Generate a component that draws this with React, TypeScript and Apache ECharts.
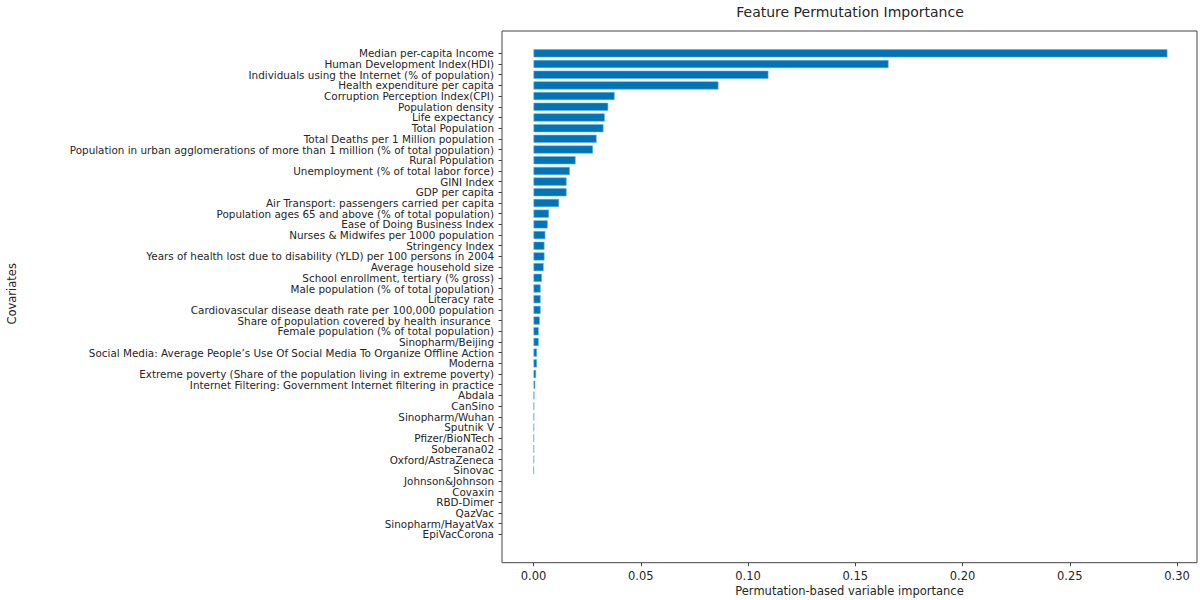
import React, { useEffect, useRef } from "react";
import * as echarts from "echarts";

const categories: string[] = [
  "Median per-capita Income",
  "Human Development Index(HDI)",
  "Individuals using the Internet (% of population)",
  "Health expenditure per capita",
  "Corruption Perception Index(CPI)",
  "Population density",
  "Life expectancy",
  "Total Population",
  "Total Deaths per 1 Million population",
  "Population in urban agglomerations of more than 1 million (% of total population)",
  "Rural Population",
  "Unemployment (% of total labor force)",
  "GINI Index",
  "GDP per capita",
  "Air Transport: passengers carried per capita",
  "Population ages 65 and above (% of total population)",
  "Ease of Doing Business Index",
  "Nurses & Midwifes per 1000 population",
  "Stringency Index",
  "Years of health lost due to disability (YLD) per 100 persons in 2004",
  "Average household size",
  "School enrollment, tertiary (% gross)",
  "Male population (% of total population)",
  "Literacy rate",
  "Cardiovascular disease death rate per 100,000 population",
  "Share of population covered by health insurance ",
  "Female population (% of total population)",
  "Sinopharm/Beijing",
  "Social Media: Average People\u2019s Use Of Social Media To Organize Offline Action",
  "Moderna",
  "Extreme poverty (Share of the population living in extreme poverty)",
  "Internet Filtering: Government Internet filtering in practice",
  "Abdala",
  "CanSino",
  "Sinopharm/Wuhan",
  "Sputnik V",
  "Pfizer/BioNTech",
  "Soberana02",
  "Oxford/AstraZeneca",
  "Sinovac",
  "Johnson&Johnson",
  "Covaxin",
  "RBD-Dimer",
  "QazVac",
  "Sinopharm/HayatVax",
  "EpiVacCorona",
];

const importance: number[] = [
  0.2955, 0.1655, 0.1095, 0.0862, 0.0378, 0.0348, 0.0332, 0.0326, 0.0294,
  0.0277, 0.0196, 0.0169, 0.0154, 0.0154, 0.0119, 0.0072, 0.0066, 0.0055,
  0.0051, 0.0051, 0.0047, 0.0039, 0.0033, 0.0033, 0.0033, 0.0029, 0.0024,
  0.0024, 0.0016, 0.0016, 0.0012, 0.0008, 0.0004, 0.0003, 0.0003, 0.0002,
  0.0002, 0.0002, 0.0002, 0.0001, 0, 0, 0, 0, 0, 0,
];

const xTicks: number[] = [0, 0.05, 0.1, 0.15, 0.2, 0.25, 0.3];

const TEXT = "#262626";
const FONT = "DejaVu Sans";

export default function App() {
  const ref = useRef<HTMLDivElement>(null);
  useEffect(() => {
    if (!ref.current) return;
    const chart = echarts.init(ref.current, undefined, { renderer: "svg" });
    const xMin = -0.0147;
    const xMax = 0.3093;
    const frameLeft = 502;
    const frameRight = 3;
    chart.setOption({
      animation: false,
      backgroundColor: "#ffffff",
      textStyle: { fontFamily: FONT },
      title: {
        text: "Feature Permutation Importance",
        left: 845,
        top: 0,
        padding: 5,
        textAlign: "center",
        textStyle: { fontFamily: FONT, fontSize: 14, fontWeight: "normal", color: TEXT },
      },
      grid: [
        {
          left: frameLeft,
          right: frameRight,
          top: 48,
          height: 491.7,
          containLabel: false,
          outerBoundsMode: "none",
        },
        {
          left: frameLeft,
          right: frameRight,
          top: 31,
          bottom: 37.3,
          show: true,
          borderColor: "#444",
          borderWidth: 1,
          backgroundColor: "transparent",
          containLabel: false,
          outerBoundsMode: "none",
        },
      ],
      xAxis: [
        { type: "value", gridIndex: 0, min: xMin, max: xMax, show: false },
        {
          type: "value",
          gridIndex: 1,
          min: xMin,
          max: xMax,
          position: "bottom",
          name: "Permutation-based variable importance",
          nameLocation: "middle",
          nameGap: 22,
          nameMoveOverlap: false,
          nameTextStyle: { fontFamily: FONT, fontSize: 11.5, color: TEXT },
          axisLine: { show: false, onZero: false },
          splitLine: { show: false },
          axisTick: {
            show: true,
            length: 3.5,
            lineStyle: { color: "#444" },
            customValues: xTicks,
          },
          axisLabel: {
            fontFamily: FONT,
            fontSize: 11.5,
            color: TEXT,
            margin: 7,
            customValues: xTicks,
            formatter: (v: number) => v.toFixed(2),
          },
        },
      ],
      yAxis: [
        {
          type: "category",
          gridIndex: 0,
          data: categories,
          inverse: true,
          name: "Covariates",
          nameLocation: "middle",
          nameRotate: 90,
          nameGap: 484,
          nameMoveOverlap: false,
          nameTextStyle: { fontFamily: FONT, fontSize: 11.5, color: TEXT },
          axisLine: { show: false, onZero: false },
          axisTick: {
            show: true,
            alignWithLabel: true,
            length: 3.5,
            lineStyle: { color: "#444" },
          },
          axisLabel: {
            fontFamily: FONT,
            fontSize: 10.4,
            color: TEXT,
            margin: 8,
            interval: 0,
          },
          splitLine: { show: false },
        },
        { type: "value", gridIndex: 1, show: false, min: 0, max: 1 },
      ],
      series: [
        {
          type: "bar",
          xAxisIndex: 0,
          yAxisIndex: 0,
          data: importance.map((v) =>
            v === 0 ? { value: v, itemStyle: { borderWidth: 0 } } : v
          ),
          barWidth: "76%",
          itemStyle: { color: "#0173b7", borderColor: "#5fb0e0", borderWidth: 0.6 },
        },
      ],
    });
    return () => chart.dispose();
  }, []);
  return (
    <div
      ref={ref}
      style={{ position: "absolute", left: 0, top: 0, width: 1200, height: 600 }}
    />
  );
}
